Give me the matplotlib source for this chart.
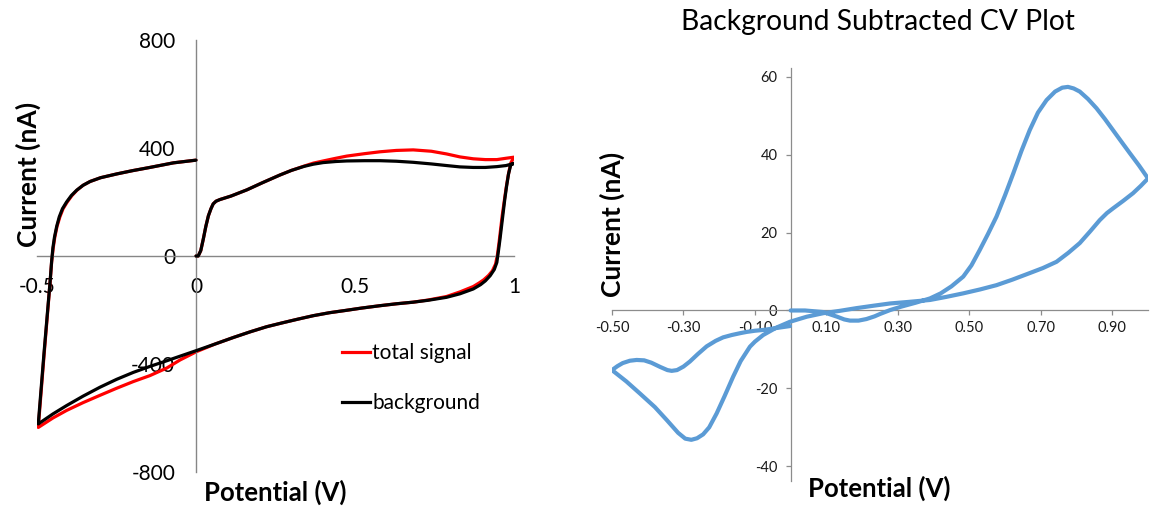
import matplotlib
matplotlib.use("Agg")
import matplotlib.pyplot as plt
from matplotlib.lines import Line2D

plt.rcParams['font.family'] = ['Lato', 'DejaVu Sans']

# ---- Left panel: raw cyclic voltammograms (potential in V, current in nA) ----
bg_potential = [0.000, 0.007, 0.015, 0.023, 0.031, 0.039, 0.047, 0.054, 0.063, 0.075, 0.110,
                0.160, 0.210, 0.264, 0.300, 0.340, 0.369, 0.400, 0.440, 0.474, 0.530, 0.579,
                0.630, 0.683, 0.740, 0.788, 0.830, 0.872, 0.910, 0.946, 0.975, 1.000,
                0.990, 0.983, 0.977, 0.971, 0.966, 0.961, 0.956, 0.951, 0.946, 0.938, 0.925,
                0.910, 0.895, 0.872, 0.830, 0.788, 0.730, 0.683, 0.630, 0.579, 0.520, 0.474,
                0.420, 0.369, 0.320, 0.270, 0.222, 0.170, 0.117, 0.060, 0.002, -0.050,
                -0.092, -0.145, -0.197, -0.250, -0.302, -0.355, -0.407, -0.450, -0.496,
                -0.478, -0.465, -0.459, -0.454, -0.450, -0.445, -0.438, -0.430, -0.420,
                -0.407, -0.392, -0.375, -0.355, -0.333, -0.300, -0.249, -0.200, -0.145,
                -0.071, 0.000]
bg_current = [0, 0, 20, 63, 110, 149, 175, 193, 203, 209, 222,
              245, 272, 300, 317, 332, 340, 346, 350, 352, 353, 353,
              351, 347, 341, 335, 330, 328, 328, 331, 335, 343,
              338, 305, 261, 210, 161, 112, 63, 18, -24, -50, -73,
              -92, -106, -122, -140, -153, -164, -171, -177, -184, -193, -201,
              -210, -221, -234, -248, -262, -281, -302, -326, -350, -371,
              -388, -409, -431, -457, -486, -519, -554, -585, -622,
              -360, -180, -98, -20, 30, 70, 110, 145, 175,
              200, 224, 244, 262, 276, 290, 304, 316, 328,
              345, 355]

total_potential = [0.000, 0.007, 0.015, 0.023, 0.031, 0.039, 0.047, 0.054, 0.063, 0.075, 0.110,
                   0.160, 0.210, 0.264, 0.300, 0.340, 0.369, 0.400, 0.440, 0.474, 0.530, 0.579,
                   0.630, 0.683, 0.740, 0.788, 0.830, 0.872, 0.910, 0.946, 0.975, 1.000,
                   0.990, 0.982, 0.975, 0.969, 0.963, 0.958, 0.953, 0.948, 0.942, 0.932, 0.920,
                   0.905, 0.890, 0.872, 0.830, 0.788, 0.730, 0.683, 0.630, 0.579, 0.520, 0.474,
                   0.420, 0.369, 0.320, 0.270, 0.222, 0.170, 0.117, 0.060, 0.002, -0.050,
                   -0.092, -0.145, -0.197, -0.250, -0.302, -0.355, -0.407, -0.450, -0.496,
                   -0.478, -0.465, -0.459, -0.454, -0.449, -0.444, -0.437, -0.428, -0.418,
                   -0.405, -0.390, -0.374, -0.355, -0.333, -0.300, -0.249, -0.200, -0.145,
                   -0.071, 0.000]
total_current = [0, 0, 20, 63, 110, 149, 175, 193, 203, 209, 222,
                 245, 272, 300, 317, 333, 344, 352, 362, 370, 379, 386,
                 391, 393, 388, 378, 367, 360, 357, 357, 362, 366,
                 345, 300, 250, 200, 150, 100, 50, 5, -30, -55, -72,
                 -88, -100, -113, -133, -150, -163, -171, -177, -184, -193, -201,
                 -210, -221, -234, -248, -262, -281, -302, -326, -354, -385,
                 -415, -443, -465, -490, -516, -543, -572, -600, -635,
                 -370, -185, -100, -22, 30, 70, 110, 145, 175,
                 200, 224, 244, 262, 276, 290, 304, 316, 328,
                 345, 355]

left_xticks = [-0.5, 0, 0.5, 1]
left_xticklabels = ['-0.5', '0', '0.5', '1']
left_yticks = [-800, -400, 0, 400, 800]
left_yticklabels = ['-800', '-400', '0', '400', '800']

# ---- Right panel: background-subtracted CV ----
sub_potential = [0.000, 0.040, 0.091, 0.130, 0.150, 0.166, 0.190, 0.212, 0.235, 0.250, 0.278,
                 0.310, 0.350, 0.390, 0.420, 0.450, 0.483, 0.506, 0.529, 0.552, 0.576, 0.600,
                 0.623, 0.646, 0.669, 0.692, 0.716, 0.740, 0.760, 0.776, 0.792, 0.809, 0.832,
                 0.856, 0.879, 0.902, 0.925, 0.949, 0.975, 1.000,
                 0.980, 0.958, 0.930, 0.902, 0.885, 0.865, 0.838, 0.809, 0.777, 0.744, 0.706,
                 0.669, 0.620, 0.576, 0.530, 0.483, 0.436, 0.390, 0.330, 0.278, 0.230, 0.184,
                 0.137, 0.091, 0.045, -0.002, -0.040, -0.077, -0.100, -0.114, -0.140, -0.161,
                 -0.185, -0.207, -0.228, -0.245, -0.262, -0.278, -0.295, -0.315, -0.347,
                 -0.380, -0.422, -0.460, -0.500,
                 -0.485, -0.470, -0.450, -0.431, -0.410, -0.390, -0.365, -0.345, -0.333,
                 -0.318, -0.300, -0.282, -0.260, -0.235, -0.210, -0.189, -0.165, -0.140,
                 -0.123, -0.100, -0.077, -0.040, -0.002]
sub_current = [0.0, 0.0, -0.4, -1.6, -2.3, -2.6, -2.6, -2.2, -1.5, -0.9, 0.1,
               1.0, 2.0, 3.1, 4.4, 6.2, 8.7, 11.6, 15.5, 19.6, 24.1, 29.6,
               35.2, 41.0, 46.3, 50.8, 54.0, 56.2, 57.2, 57.4, 57.0, 56.2, 54.3,
               51.9, 49.2, 46.3, 43.4, 40.4, 37.2, 33.9,
               32.0, 30.1, 28.1, 26.2, 25.0, 23.2, 20.3, 17.3, 14.8, 12.5, 10.9,
               9.6, 7.9, 6.5, 5.4, 4.4, 3.5, 2.7, 2.2, 1.8, 1.2, 0.6,
               -0.1, -0.7, -1.6, -2.9, -4.4, -6.3, -8.0, -9.3, -13.0, -17.0,
               -22.0, -26.4, -30.0, -31.8, -32.8, -33.2, -32.9, -31.4, -28.1,
               -24.8, -21.3, -18.2, -15.3,
               -14.3, -13.5, -12.9, -12.7, -12.8, -13.4, -14.5, -15.3, -15.5,
               -15.3, -14.4, -13.1, -11.2, -9.2, -7.8, -6.9, -6.3, -5.8,
               -5.5, -5.2, -5.0, -4.5, -4.0]

right_xticks = [-0.5, -0.3, -0.1, 0.1, 0.3, 0.5, 0.7, 0.9]
right_yticks = [-40, -20, 0, 20, 40, 60]

W, H = 1155, 514
fig = plt.figure(figsize=(W / 100, H / 100), dpi=100)


def frac_box(x0, y0, x1, y1):
    """Pixel box (left, top, right, bottom) -> figure-fraction rect."""
    return [x0 / W, 1 - y1 / H, (x1 - x0) / W, (y1 - y0) / H]


line_style = dict(solid_joinstyle='round', solid_capstyle='round')

# ---------------- left axes ----------------
axL = fig.add_axes(frac_box(37, 40, 514, 472))
axL.plot(total_potential, total_current, color='#ff0000', lw=2.3, zorder=2, **line_style)
axL.plot(bg_potential, bg_current, color='#000000', lw=2.3, zorder=3, **line_style)
axL.set_xlim(-0.5, 1.0)
axL.set_ylim(-800, 800)
for side in ('top', 'right'):
    axL.spines[side].set_visible(False)
axL.spines['left'].set_position(('data', 0))
axL.spines['bottom'].set_position(('data', 0))
for side in ('left', 'bottom'):
    axL.spines[side].set_color('#868686')
    axL.spines[side].set_linewidth(1.0)
axL.set_xticks(left_xticks)
axL.set_xticklabels(left_xticklabels)
axL.set_yticks(left_yticks)
axL.set_yticklabels(left_yticklabels)
axL.tick_params(axis='both', length=0, labelsize=15, colors='#000000')
axL.tick_params(axis='y', pad=15)
axL.tick_params(axis='x', pad=15)
axL.patch.set_alpha(0)

handles = [Line2D([], [], color='#ff0000', lw=2.3), Line2D([], [], color='#000000', lw=2.3)]
fig.legend(handles, ['total signal', 'background'], loc='upper left',
           bbox_to_anchor=(342 / W, 1 - 343 / H), bbox_transform=fig.transFigure,
           frameon=False, fontsize=15, handlelength=1.35, handletextpad=0.1,
           labelspacing=1.45, borderpad=0, borderaxespad=0)

fig.text(28 / W, 1 - 174 / H, 'Current (nA)', rotation=90, ha='center', va='center',
         fontsize=19, fontweight='bold')
fig.text(275 / W, 1 - 492 / H, 'Potential (V)', ha='center', va='center',
         fontsize=18.5, fontweight='bold')

# ---------------- right axes ----------------
axR = fig.add_axes(frac_box(612, 67.8, 1148, 481.1))
axR.plot(sub_potential, sub_current, color='#5b9bd5', lw=3.0, zorder=3, **line_style)
axR.set_xlim(-0.5, 1.0)
axR.set_ylim(-43.8, 62.3)
for side in ('top', 'right'):
    axR.spines[side].set_visible(False)
axR.spines['left'].set_position(('data', 0))
axR.spines['bottom'].set_position(('data', 0))
for side in ('left', 'bottom'):
    axR.spines[side].set_color('#8c8c8c')
    axR.spines[side].set_linewidth(0.9)
axR.set_xticks(right_xticks)
axR.set_xticklabels([f'{v:.2f}' for v in right_xticks])
axR.set_yticks(right_yticks)
axR.set_yticklabels([str(v) for v in right_yticks])
axR.tick_params(axis='both', direction='out', length=3.5, width=0.9, color='#8c8c8c',
                labelsize=10.5, labelcolor='#1a1a1a')
axR.tick_params(axis='x', pad=4)
axR.tick_params(axis='y', pad=6)
axR.patch.set_alpha(0)

fig.text(878 / W, 1 - 22 / H, 'Background Subtracted CV Plot', ha='center', va='center',
         fontsize=20.3)
fig.text(612 / W, 1 - 224 / H, 'Current (nA)', rotation=90, ha='center', va='center',
         fontsize=19, fontweight='bold')
fig.text(879 / W, 1 - 488 / H, 'Potential (V)', ha='center', va='center',
         fontsize=18.5, fontweight='bold')

fig.savefig('out.png', dpi=100)
